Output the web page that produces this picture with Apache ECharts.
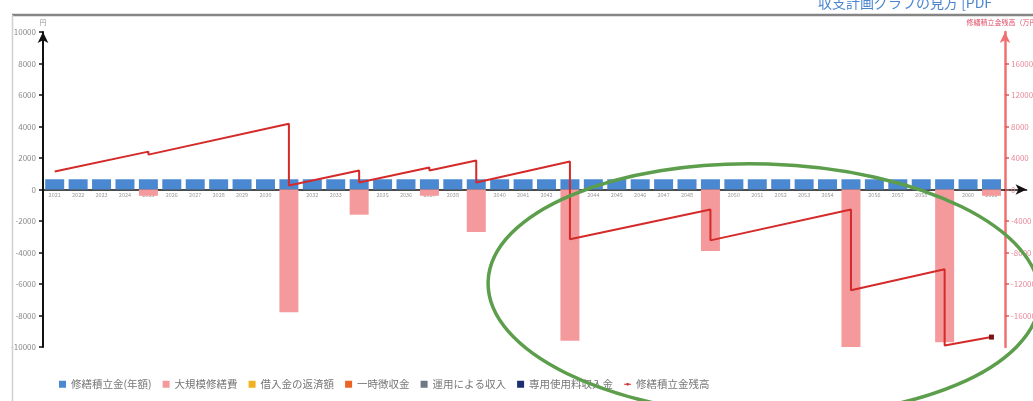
<!DOCTYPE html>
<html><head><meta charset="utf-8">
<script src="https://cdn.jsdelivr.net/npm/echarts@6/dist/echarts.min.js"></script>
<style>html,body{margin:0;padding:0;background:#fff}#c{width:1033px;height:401px}</style>
</head><body><div id="c"></div>
<script>
// x-axis tick labels (last entry is the empty stretch where the axis arrow runs)
const categories = ['2021','2022','2023','2024','2025','2026','2027','2028','2029','2030',
  '2031','2032','2033','2034','2035','2036','2037','2038','2039','2040',
  '2041','2042','2043','2044','2045','2046','2047','2048','2049','2050',
  '2051','2052','2053','2054','2055','2056','2057','2058','2059','2060','2061',''];
// 修繕積立金(年額)
const contributions = [650,650,650,650,650,650,650,650,650,650,
  650,650,650,650,650,650,650,650,650,650,
  650,650,650,650,650,650,650,650,650,650,
  650,650,650,650,650,650,650,650,650,650,650];
// 大規模修繕費
const repairs = [0,0,0,0,-400,0,0,0,0,0,
  -7800,0,0,-1600,0,0,-400,0,-2700,0,
  0,0,-9600,0,0,0,0,0,-3900,0,
  0,0,0,0,-10000,0,0,0,-9700,0,-400];
const loanRepay = [];
const tempLevy = [];
const investIncome = [];
const usageIncome = [];
// 修繕積立金残高 (break points of the line, right axis)
const balanceYears  = [2021,2025,2025,2031,2031,2034,2034,2037,2037,2039,2039,2043,2043,2049,2049,2055,2055,2059,2059,2061];
const balanceValues = [2280,4810,4430,8360,510,2400,890,2790,2400,3670,890,3550,-6330,-2530,-6460,-2530,-12790,-10130,-19800,-18740];

const names = ['修繕積立金(年額)','大規模修繕費','借入金の返済額','一時徴収金','運用による収入','専用使用料収入金','修繕積立金残高'];
const lineData = balanceYears.map((y,i)=> i===balanceYears.length-1
  ? {value:[y,balanceValues[i]], symbol:'rect', symbolSize:5, itemStyle:{color:'#7a1414'}}
  : [y,balanceValues[i]]);

const plain = v => String(v);
const chart = echarts.init(document.getElementById('c'), null, {renderer:'canvas'});
chart.setOption({
  animation:false,
  backgroundColor:'#fff',
  textStyle:{fontFamily:'"Noto Sans CJK JP", "Noto Sans", sans-serif'},
  grid:{left:43, right:6.4, top:32, bottom:54, containLabel:false, outerBoundsMode:'none'},
  legend:{
    data:names.map((n,i)=> i<6 ? {name:n, icon:'rect'} : {name:n, icon:'path://M0,4 L5,4 L5,2.5 L9,2.5 L9,4 L14,4 L14,6 L9,6 L9,7.5 L5,7.5 L5,6 L0,6 Z'}),
    left:54, top:374, itemWidth:7, itemHeight:7, itemGap:11,
    textStyle:{fontSize:10.5, color:'#777'}
  },
  xAxis:[
    {type:'category', data:categories, gridIndex:0, position:'bottom', offset:-157.5,
     axisLine:{show:true, onZero:false, symbol:['none','arrow'], symbolSize:[8,11], lineStyle:{color:'#111', width:1.5}},
     axisTick:{show:false},
     axisLabel:{interval:0, fontSize:5.5, color:'#999', margin:3}},
    {type:'value', min:2020.5, max:2062.5, show:false, gridIndex:0}
  ],
  yAxis:[
    {type:'value', min:-10000, max:10000, interval:2000, position:'left',
     name:'円', nameGap:6, nameTextStyle:{fontSize:7, color:'#999'},
     axisLine:{show:true, symbol:['none','arrow'], symbolSize:[8,11], lineStyle:{color:'#111', width:2}},
     axisTick:{show:true, length:4, lineStyle:{color:'#111', width:1.5}},
     axisLabel:{fontSize:8, color:'#888', margin:7, formatter:plain},
     splitLine:{show:false}},
    {type:'value', min:-20000, max:20000, interval:4000, position:'right', offset:-21.6,
     name:'修繕積立金残高（万円）', nameGap:6, nameTextStyle:{fontSize:7, color:'#e0506a'},
     axisLine:{show:true, symbol:['none','arrow'], symbolSize:[8,11], lineStyle:{color:'#f07070', width:2.5}},
     axisTick:{show:true, length:4, lineStyle:{color:'#e05a5a', width:1.5}},
     axisLabel:{fontSize:8, color:'#e8899a', margin:6, showMaxLabel:false, showMinLabel:false, formatter:plain},
     splitLine:{show:false}}
  ],
  series:[
    {name:names[0], type:'bar', stack:'a', data:contributions, barWidth:19, itemStyle:{color:'#4a88d2'}},
    {name:names[1], type:'bar', stack:'a', data:repairs, barWidth:19, itemStyle:{color:'#f59a9c'}},
    {name:names[2], type:'bar', stack:'a', data:loanRepay, itemStyle:{color:'#f2b120'}},
    {name:names[3], type:'bar', stack:'a', data:tempLevy, itemStyle:{color:'#ec6326'}},
    {name:names[4], type:'bar', stack:'a', data:investIncome, itemStyle:{color:'#6f7884'}},
    {name:names[5], type:'bar', stack:'a', data:usageIncome, itemStyle:{color:'#1c2f70'}},
    {name:names[6], type:'line', xAxisIndex:1, yAxisIndex:1, data:lineData, symbol:'none', showSymbol:true,
     lineStyle:{color:'#d42a2a', width:2}, itemStyle:{color:'#d42a2a'}, z:5}
  ],
  graphic:[
    {type:'line', shape:{x1:12,y1:15,x2:1033,y2:15}, style:{stroke:'#858585', lineWidth:2.5}, z:50},
    {type:'line', shape:{x1:12.5,y1:15,x2:12.5,y2:401}, style:{stroke:'#d0d0d0', lineWidth:1.5}, z:50},
    {type:'text', x:818, y:-4, style:{text:'収支計画グラフの見方 [PDF', fill:'#4a86d0', fontSize:14, fontFamily:'"Noto Sans CJK JP"'}, z:50},
    {type:'ellipse', x:764, y:290, rotation:-0.03, shape:{cx:0, cy:0, rx:276, ry:126},
     style:{fill:'none', stroke:'#5c9e4c', lineWidth:3.5}, z:100}
  ]
});
</script></body></html>
